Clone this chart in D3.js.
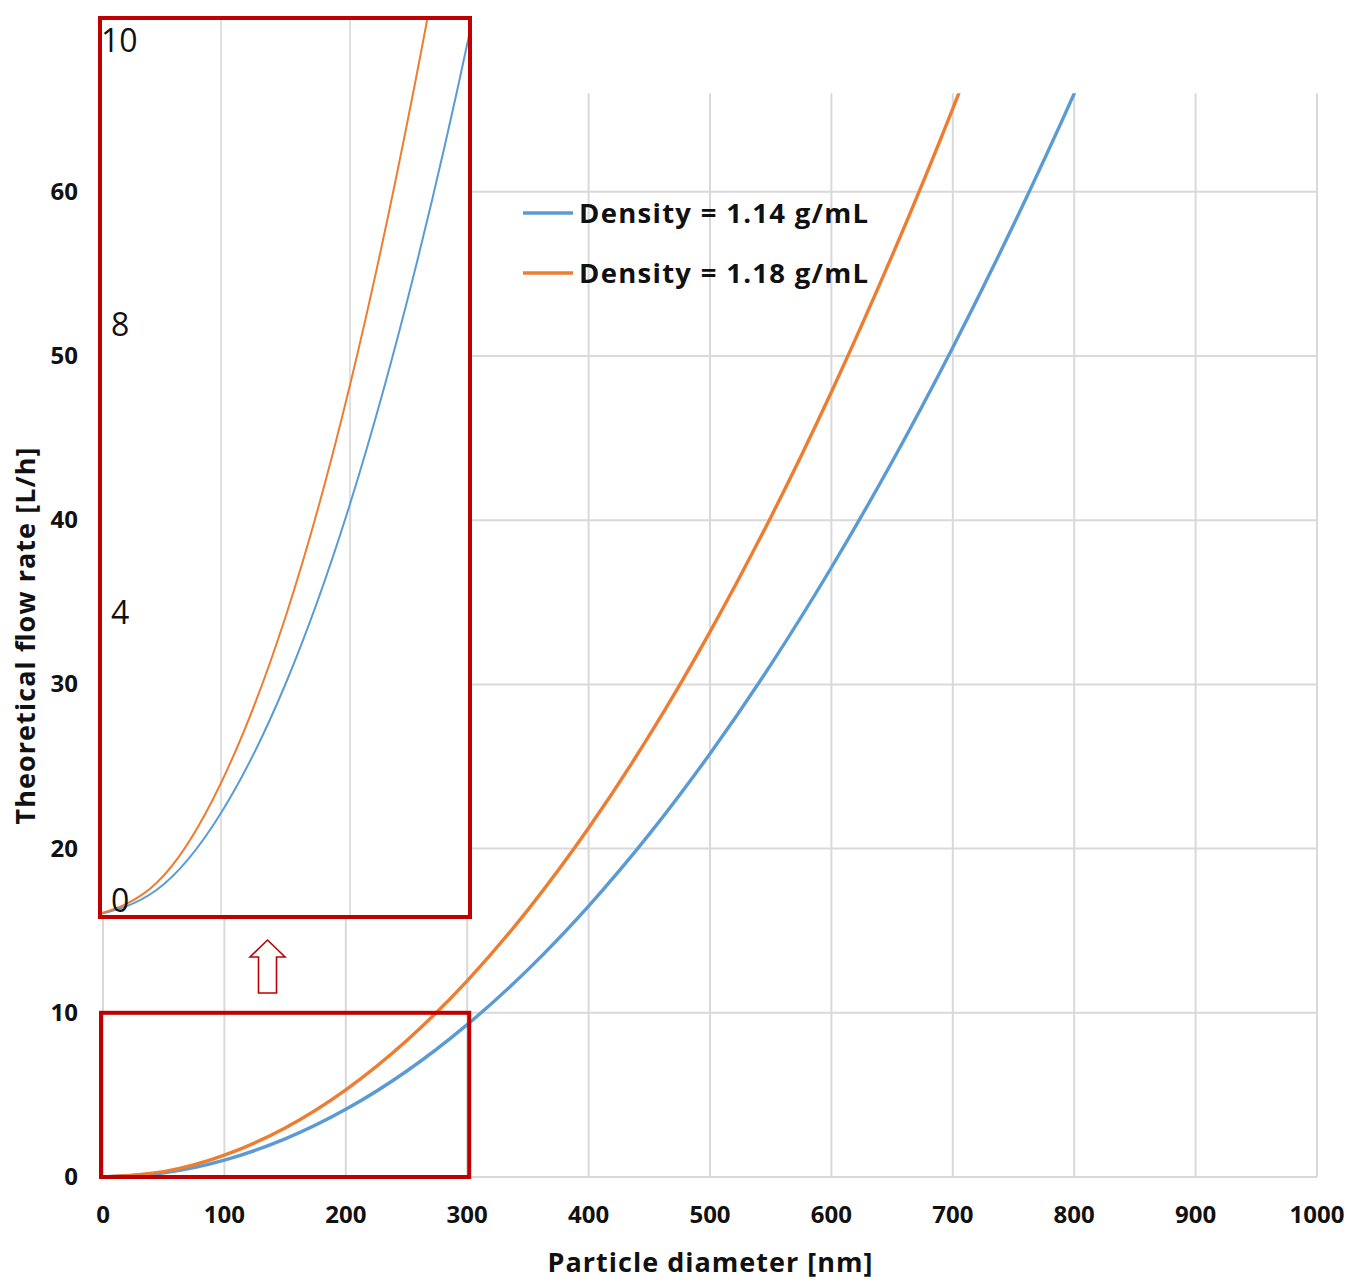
<!DOCTYPE html>
<html>
<head>
<meta charset="utf-8">
<script src="https://cdn.jsdelivr.net/npm/d3@7/dist/d3.min.js"></script>
<style>
  html, body { margin: 0; padding: 0; background: #fff; }
  svg { display: block; }
  text { font-family: "Open Sans", Lato, sans-serif; }
</style>
</head>
<body>
<svg id="chart" width="1350" height="1282"></svg>
<script>
// ---- data ----
const diameters = [0, 50, 100, 150, 200, 250, 300, 350, 400, 450, 500, 550, 600, 650, 700, 750, 800, 850];
const flowDensity114 = [0, 0.26, 1.03, 2.32, 4.12, 6.44, 9.28, 12.63, 16.5, 20.88, 25.78, 31.19, 37.12, 43.56, 50.52, 57.99, 65.98, 74.5];
const flowDensity118 = [0, 0.33, 1.33, 2.99, 5.31, 8.30, 11.95, 16.27, 21.25, 26.89, 33.2, 40.17, 47.81, 56.11, 65.07, 74.7];
const seriesNames = ["Density = 1.14 g/mL", "Density = 1.18 g/mL"];
const seriesColors = ["#5b9bd5", "#ed7d31"];
const xTicks = [0, 100, 200, 300, 400, 500, 600, 700, 800, 900, 1000];
const yTicks = [0, 10, 20, 30, 40, 50, 60];
const insetGridTicks = [100, 200];
// inset labels as printed in the picture, with the inset value at which each sits
const insetLabels = [
  { text: "10", value: 8.76, dx: -1 },
  { text: "8", value: 5.92, dx: 9 },
  { text: "4", value: 3.04, dx: 9 },
  { text: "0", value: 0.16, dx: 9 }
];
const xTitle = "Particle diameter [nm]";
const yTitle = "Theoretical flow rate [L/h]";

const series = [flowDensity114, flowDensity118].map((vals, i) => ({
  name: seriesNames[i],
  color: seriesColors[i],
  points: vals.map((v, j) => ({ x: diameters[j], y: v }))
}));

// ---- layout ----
const svg = d3.select("#chart");
const plot = { left: 103, right: 1317, top: 93.3, bottom: 1177 };
const x = d3.scaleLinear().domain([0, 1000]).range([plot.left, plot.right]);
const y = d3.scaleLinear().domain([0, 66]).range([plot.bottom, plot.top]);

const grid = "#d9d9d9";
const red = "#c00000";
const ink = "#111";

const defs = svg.append("defs");
defs.append("clipPath").attr("id", "mainClip")
  .append("rect").attr("x", plot.left - 2).attr("y", plot.top)
  .attr("width", plot.right - plot.left + 4).attr("height", plot.bottom - plot.top + 2);

// gridlines
svg.append("g").selectAll("line").data(xTicks).join("line")
  .attr("x1", d => x(d)).attr("x2", d => x(d))
  .attr("y1", plot.top).attr("y2", plot.bottom)
  .attr("stroke", grid).attr("stroke-width", 2);
svg.append("g").selectAll("line").data(yTicks).join("line")
  .attr("x1", plot.left).attr("x2", plot.right)
  .attr("y1", d => y(d)).attr("y2", d => y(d))
  .attr("stroke", grid).attr("stroke-width", 2);

// tick labels
svg.append("g").selectAll("text").data(xTicks).join("text")
  .attr("x", d => x(d)).attr("y", 1223)
  .attr("text-anchor", "middle")
  .attr("font-size", 24).attr("font-weight", "bold").attr("fill", ink)
  .text(d => d);
svg.append("g").selectAll("text").data(yTicks).join("text")
  .attr("x", 78).attr("y", d => y(d) + 8)
  .attr("text-anchor", "end")
  .attr("font-size", 24).attr("font-weight", "bold").attr("fill", ink)
  .text(d => d);

// axis titles
svg.append("text").attr("x", 710).attr("y", 1272)
  .attr("text-anchor", "middle").attr("font-size", 27).attr("font-weight", "bold")
  .attr("textLength", 325).attr("lengthAdjust", "spacing")
  .attr("fill", ink).text(xTitle);
svg.append("text").attr("transform", "translate(35,636) rotate(-90)")
  .attr("text-anchor", "middle").attr("font-size", 27).attr("font-weight", "bold")
  .attr("textLength", 377).attr("lengthAdjust", "spacing")
  .attr("fill", ink).text(yTitle);

// main curves
const line = d3.line().x(d => x(d.x)).y(d => y(d.y)).curve(d3.curveNatural);
svg.append("g").attr("clip-path", "url(#mainClip)")
  .selectAll("path").data(series).join("path")
  .attr("d", d => line(d.points))
  .attr("fill", "none").attr("stroke", d => d.color).attr("stroke-width", 3.4);

// legend
const legend = svg.append("g");
series.forEach((s, i) => {
  const ly = 213 + i * 60;
  legend.append("line").attr("x1", 523).attr("x2", 573).attr("y1", ly).attr("y2", ly)
    .attr("stroke", s.color).attr("stroke-width", 3.4);
  legend.append("text").attr("x", 579).attr("y", ly + 10)
    .attr("font-size", 27.5).attr("font-weight", "bold").attr("fill", ink)
    .attr("textLength", 289).attr("lengthAdjust", "spacing")
    .text(s.name);
});

// small highlight box (0-300 nm, 0-10 L/h)
svg.append("rect")
  .attr("x", x(0) - 2).attr("y", y(10))
  .attr("width", x(300) - x(0) + 4).attr("height", y(0) - y(10))
  .attr("fill", "none").attr("stroke", red).attr("stroke-width", 4);

// arrow
svg.append("path")
  .attr("d", "M267.5,940 L285,957 L276.5,957 L276.5,993 L258.5,993 L258.5,957 L250,957 Z")
  .attr("fill", "#fff").attr("stroke", red).attr("stroke-width", 1.6);

// ---- inset ----
const inset = { left: 100, right: 470, top: 18, bottom: 917 };
const ix = d3.scaleLinear().domain([0, 300]).range([92, 479]);
const iy = d3.scaleLinear().domain([0, 9]).range([916, 16]);

defs.append("clipPath").attr("id", "insetClip")
  .append("rect").attr("x", inset.left).attr("y", inset.top)
  .attr("width", inset.right - inset.left).attr("height", inset.bottom - inset.top);

svg.append("rect")
  .attr("x", inset.left).attr("y", inset.top)
  .attr("width", inset.right - inset.left).attr("height", inset.bottom - inset.top)
  .attr("fill", "#fff");

const ig = svg.append("g").attr("clip-path", "url(#insetClip)");
ig.selectAll("line").data(insetGridTicks).join("line")
  .attr("x1", d => ix(d)).attr("x2", d => ix(d))
  .attr("y1", inset.top).attr("y2", inset.bottom)
  .attr("stroke", grid).attr("stroke-width", 1.6);

const iline = d3.line().x(d => ix(d.x)).y(d => iy(d.y)).curve(d3.curveNatural);
ig.selectAll("path").data(series).join("path")
  .attr("d", d => iline(d.points.filter(p => p.x <= 350)))
  .attr("fill", "none").attr("stroke", d => d.color).attr("stroke-width", 2);

svg.append("g").selectAll("text").data(insetLabels).join("text")
  .attr("x", d => 102 + d.dx).attr("y", d => iy(d.value) + 12)
  .attr("font-size", 32).attr("fill", ink)
  .text(d => d.text);

svg.append("rect")
  .attr("x", inset.left).attr("y", inset.top)
  .attr("width", inset.right - inset.left).attr("height", inset.bottom - inset.top)
  .attr("fill", "none").attr("stroke", red).attr("stroke-width", 4);
</script>
</body>
</html>
